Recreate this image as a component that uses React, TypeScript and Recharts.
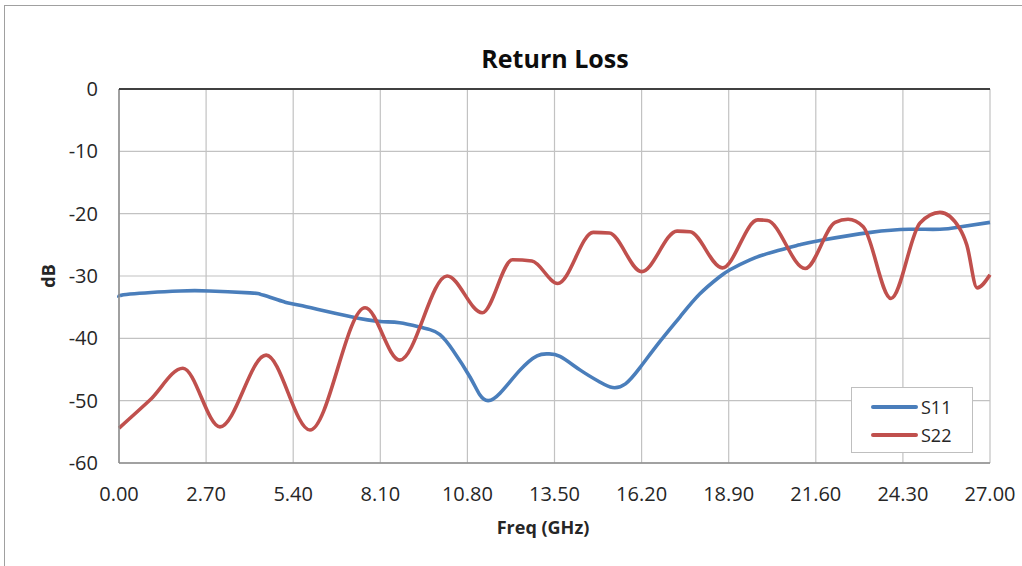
import { LineChart, Line, XAxis, YAxis, CartesianGrid } from "recharts";

const FREQ_TICKS = [0, 2.7, 5.4, 8.1, 10.8, 13.5, 16.2, 18.9, 21.6, 24.3, 27];
const DB_TICKS = [-60, -50, -40, -30, -20, -10, 0];

// S11 (GHz, dB)
const s11Freq = [
  0, 0.34, 1.9, 2.8, 4.06, 4.37, 4.68, 5.15, 5.6, 7.16, 8.1, 8.7, 9.33, 9.64,
  9.95, 10.35, 10.88, 11.19, 11.44, 11.81, 12.43, 12.96, 13.3, 13.67, 14.3,
  14.9, 15.3, 15.7, 16.15, 16.77, 17.4, 18.0, 18.6, 18.94, 19.56, 20.3, 21.1,
  21.73, 23.3, 24.5, 25.45, 26.1, 27,
];
const s11Db = [
  -33.4, -32.9, -32.4, -32.4, -32.7, -32.9, -33.4, -34.2, -34.7, -36.5, -37.3,
  -37.5, -38.2, -38.6, -39.4, -41.9, -46.2, -49.1, -50.0, -48.8, -45.1, -42.8,
  -42.5, -42.9, -45.1, -47, -47.9, -47.3, -44.7, -40.5, -36.5, -32.9, -30.2,
  -29.0, -27.4, -26.1, -25.0, -24.3, -23.0, -22.5, -22.5, -22.1, -21.4,
];

// S22
const s22Freq = [
  0, 0.96, 1.98, 3.13, 4.56, 5.92, 7.63, 8.7, 10.17, 11.26, 12.2, 12.8, 13.6,
  14.7, 15.2, 16.2, 17.3, 17.7, 18.7, 19.8, 20.1, 21.27, 22.2, 22.6, 23.07,
  23.93, 24.83, 25.45, 26.05, 26.28, 26.6, 27,
];
const s22Db = [
  -54.4, -49.9, -44.8, -54.2, -42.7, -54.7, -35.1, -43.5, -30.0, -35.9, -27.4,
  -27.6, -31.2, -23.0, -23.1, -29.3, -22.8, -22.9, -28.7, -21.0, -21.1, -28.8,
  -21.4, -20.9, -22.1, -33.6, -21.5, -19.8, -22.3, -25, -31.9, -29.8,
];

const SERIES = [
  { name: "S11", color: "#4a7ebb", freq: s11Freq, db: s11Db, curve: "natural" },
  { name: "S22", color: "#c0504d", freq: s22Freq, db: s22Db, curve: "monotone" },
];

const FONT = "'Open Sans', 'Noto Sans', sans-serif";

function LegendBox() {
  return (
    <div
      style={{
        position: "absolute",
        left: 851,
        top: 387,
        width: 122,
        height: 66,
        border: "1px solid #bfbfbf",
        background: "#fff",
        boxSizing: "border-box",
        paddingTop: 5,
        fontFamily: FONT,
        fontSize: 18,
        color: "#262626",
      }}
    >
      {SERIES.map((s) => (
        <div key={s.name} style={{ display: "flex", alignItems: "center", height: 28, paddingLeft: 19 }}>
          <span style={{ width: 47, height: 4, background: s.color, borderRadius: 2, marginRight: 3 }} />
          <span>{s.name}</span>
        </div>
      ))}
    </div>
  );
}

export default function App() {
  return (
    <div
      style={{
        position: "absolute",
        left: 0,
        top: 0,
        width: 1022,
        height: 566,
        overflow: "hidden",
        background: "#fff",
      }}
    >
      <div
        style={{
          position: "absolute",
          left: 4,
          top: 5,
          width: 1040,
          height: 600,
          border: "1px solid #a0a0a0",
        }}
      />
      <LineChart
        width={1022}
        height={566}
        margin={{ top: 89, right: 32, bottom: 43, left: 30 }}
        style={{ position: "absolute", left: 0, top: 0 }}
      >
        <CartesianGrid stroke="#c2c2c2" strokeWidth={1.2} />
        <XAxis
          type="number"
          dataKey="f"
          domain={[0, 27]}
          ticks={FREQ_TICKS}
          allowDuplicatedCategory={false}
          tickFormatter={(v: number) => v.toFixed(2)}
          tickLine={false}
          tickSize={0}
          tickMargin={24}
          height={60}
          axisLine={{ stroke: "#8c8c8c", strokeWidth: 1.5 }}
          tick={{ fontSize: 20, fill: "#262626", fontFamily: FONT }}
          interval={0}
        />
        <YAxis
          type="number"
          domain={[-60, 0]}
          ticks={DB_TICKS}
          tickLine={false}
          tickSize={0}
          tickMargin={21}
          width={89}
          axisLine={{ stroke: "#8c8c8c", strokeWidth: 1.5 }}
          tick={{ fontSize: 20, fill: "#262626", fontFamily: FONT }}
          interval={0}
        />
        {SERIES.map((s) => (
          <Line
            key={s.name}
            name={s.name}
            data={s.freq.map((f, i) => ({ f, v: s.db[i] }))}
            dataKey="v"
            type={s.curve as any}
            stroke={s.color}
            strokeWidth={3.6}
            dot={false}
            activeDot={false}
            isAnimationActive={false}
          />
        ))}
      </LineChart>
      {/* top border line at 0 dB is drawn darker in the reference */}
      <div style={{ position: "absolute", left: 119, top: 88, width: 871, height: 2, background: "#404040" }} />
      <LegendBox />
      <div
        style={{
          position: "absolute",
          left: 0,
          width: 1110,
          top: 41,
          textAlign: "center",
          fontFamily: FONT,
          fontWeight: 700,
          fontSize: 25,
          color: "#0d0d0d",
          lineHeight: "34px",
        }}
      >
        Return Loss
      </div>
      <div
        style={{
          position: "absolute",
          left: 0,
          width: 1086,
          top: 514,
          textAlign: "center",
          fontFamily: FONT,
          fontWeight: 700,
          fontSize: 18,
          color: "#262626",
          lineHeight: "26px",
        }}
      >
        Freq (GHz)
      </div>
      <div
        style={{
          position: "absolute",
          left: 48,
          top: 276,
          transform: "translate(-50%, -50%) rotate(-90deg)",
          fontFamily: FONT,
          fontWeight: 700,
          fontSize: 18,
          color: "#262626",
          lineHeight: "24px",
          whiteSpace: "nowrap",
        }}
      >
        dB
      </div>
    </div>
  );
}
